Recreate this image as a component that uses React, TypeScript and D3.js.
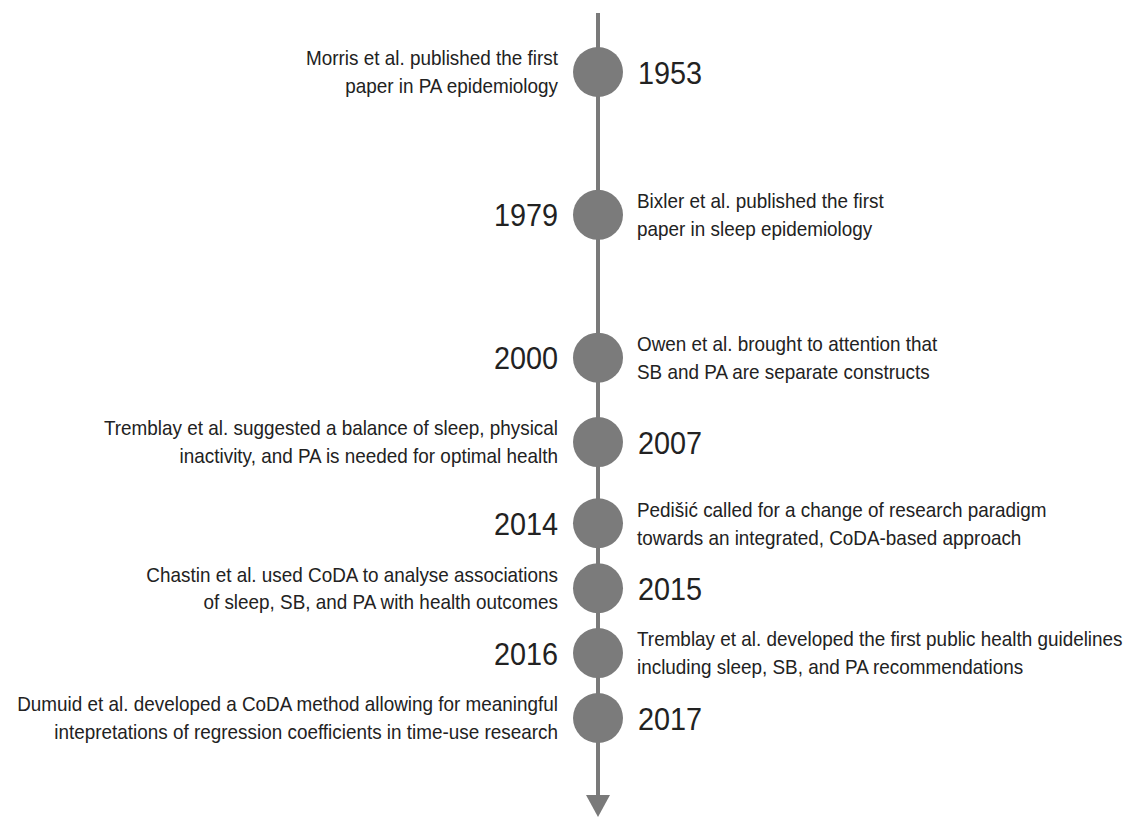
import React, { useEffect, useRef } from "react";
import * as d3 from "d3";

// milestones, top to bottom
const years = [1953, 1979, 2000, 2007, 2014, 2015, 2016, 2017];

// vertical slot of each milestone (uneven spacing as in the figure)
const rows = [0, 2.2, 4.4, 5.7, 6.95, 7.95, 8.95, 9.95];

// which side the description sits on
const sides = ["left", "right", "right", "left", "right", "left", "right", "left"];

const descriptions = [
  ["Morris et al. published the first", "paper in PA epidemiology"],
  ["Bixler et al. published the first", "paper in sleep epidemiology"],
  ["Owen et al. brought to attention that", "SB and PA are separate constructs"],
  ["Tremblay et al. suggested a balance of sleep, physical", "inactivity, and PA is needed for optimal health"],
  ["Pedišić called for a change of research paradigm", "towards an integrated, CoDA-based approach"],
  ["Chastin et al. used CoDA to analyse associations", "of sleep, SB, and PA with health outcomes"],
  ["Tremblay et al. developed the first public health guidelines", "including sleep, SB, and PA recommendations"],
  ["Dumuid et al. developed a CoDA method allowing for meaningful", "intepretations of regression coefficients in time-use research"],
];

const width = 1136;
const height = 817;
const cx = 598;
// Liberation Sans squeezed horizontally to mimic a condensed face
const FONT = "'Liberation Sans', Arial, sans-serif";
const NARROW = 0.9;

const Timeline = () => {
  const ref = useRef(null);

  useEffect(() => {
    const svg = d3.select(ref.current);
    svg.selectAll("*").remove();

    const y = d3
      .scaleLinear()
      .domain([0, d3.max(rows)])
      .range([72, 718]);

    const data = years.map((yr, i) => ({
      year: yr,
      row: rows[i],
      side: sides[i],
      lines: descriptions[i],
    }));

    // axis line + arrow head
    svg
      .append("line")
      .attr("x1", cx)
      .attr("x2", cx)
      .attr("y1", 13)
      .attr("y2", 798)
      .attr("stroke", "#7a7a7a")
      .attr("stroke-width", 4);

    svg
      .append("path")
      .attr("d", `M${cx - 12},795 L${cx + 12},795 L${cx},817 Z`)
      .attr("fill", "#7a7a7a");

    const g = svg
      .selectAll("g.event")
      .data(data)
      .enter()
      .append("g")
      .attr("class", "event")
      .attr("transform", (d) => `translate(${cx},${y(d.row)})`);

    g.append("circle").attr("r", 25).attr("fill", "#7b7b7b");

    // year label on the side opposite the description
    g.append("g")
      .attr("transform", (d) => `translate(${d.side === "left" ? 40 : -40},0) scale(${NARROW},1)`)
      .append("text")
      .attr("dy", "0.36em")
      .attr("text-anchor", (d) => (d.side === "left" ? "start" : "end"))
      .attr("font-family", FONT)
      .attr("font-size", 32)
      .attr("fill", "#222")
      .text((d) => d.year);

    const desc = g
      .append("g")
      .attr("transform", (d) => `translate(${d.side === "left" ? -40 : 39},0) scale(${NARROW},1)`)
      .append("text")
      .attr("text-anchor", (d) => (d.side === "left" ? "end" : "start"))
      .attr("font-family", FONT)
      .attr("font-size", 21)
      .attr("fill", "#222");

    desc
      .selectAll("tspan")
      .data((d) => d.lines.map((t, j) => ({ t, j })))
      .enter()
      .append("tspan")
      .attr("x", 0)
      .attr("y", (d) => (d.j === 0 ? -14 : 14))
      .attr("dy", "0.35em")
      .text((d) => d.t);
  }, []);

  return (
    <svg
      ref={ref}
      width={width}
      height={height}
      style={{ position: "absolute", left: 0, top: 0, background: "#fff" }}
    />
  );
};

export default function App() {
  return <Timeline />;
}
